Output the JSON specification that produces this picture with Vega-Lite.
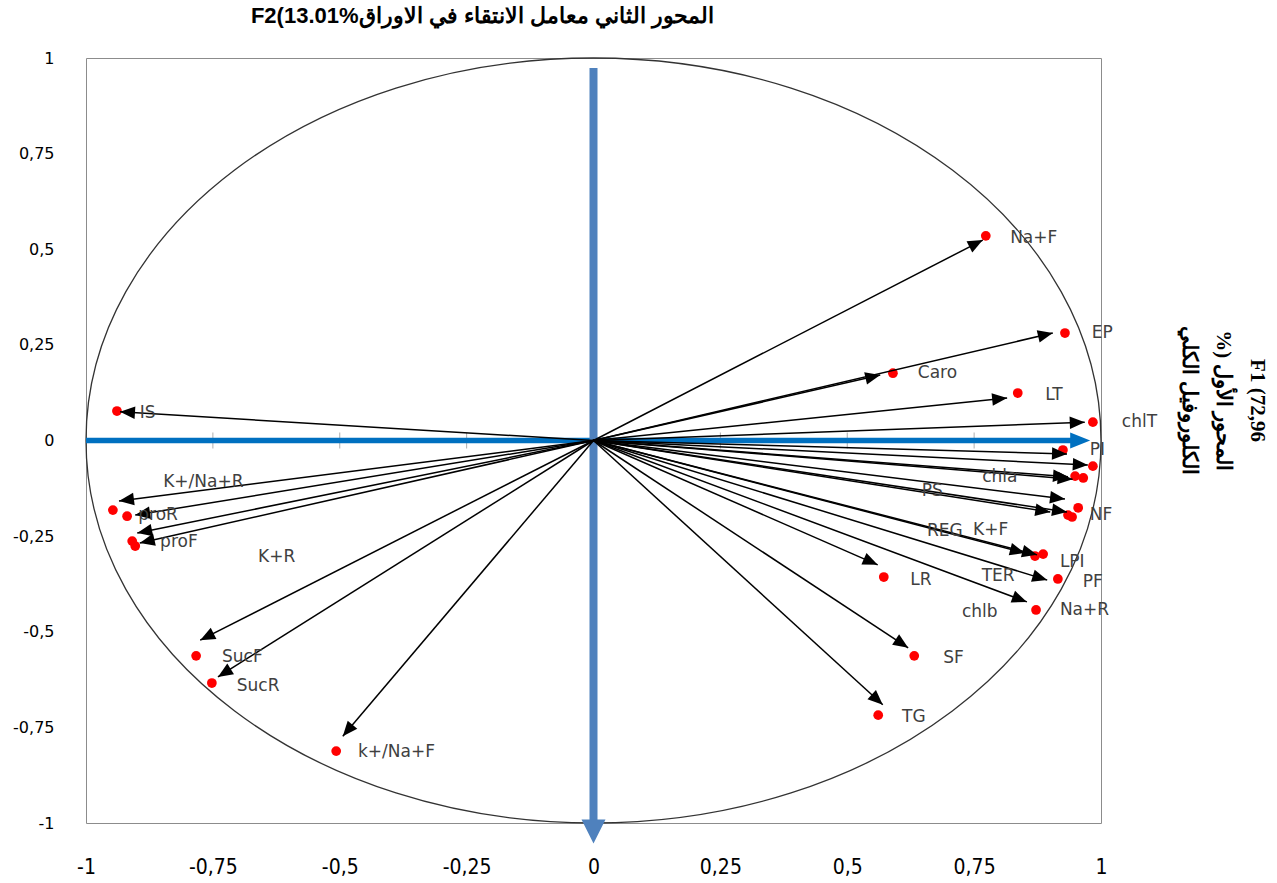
{
  "$schema": "https://vega.github.io/schema/vega-lite/v6.json",
  "width": 1015,
  "height": 765,
  "autosize": "none",
  "padding": {"left": 86, "top": 58, "right": 176, "bottom": 60},
  "background": "white",
  "config": {"view": {"stroke": "#8c8c8c", "strokeWidth": 1}, "font": "DejaVu Sans"},
  "title": {
    "text": "F2(13.01%المحور الثاني معامل الانتقاء في الاوراق",
    "font": "Liberation Sans",
    "fontWeight": "bold",
    "fontSize": 22,
    "anchor": "middle",
    "dx": -111,
    "offset": 22,
    "color": "#000000"
  },
  "datasets": {
    "vars": [
      {"name": "Na+F", "px": 0.773, "py": 0.535, "ax": 0.767, "ay": 0.524, "lx": 0.821, "ly": 0.530},
      {"name": "EP", "px": 0.929, "py": 0.281, "ax": 0.905, "ay": 0.281, "lx": 0.982, "ly": 0.281},
      {"name": "Caro", "px": 0.590, "py": 0.176, "ax": 0.565, "ay": 0.171, "lx": 0.639, "ly": 0.176},
      {"name": "LT", "px": 0.836, "py": 0.124, "ax": 0.815, "ay": 0.111, "lx": 0.890, "ly": 0.119},
      {"name": "chlT", "px": 0.984, "py": 0.048, "ax": 0.968, "ay": 0.048, "lx": 1.041, "ly": 0.048},
      {"name": "PI", "px": 0.925, "py": -0.025, "ax": 0.933, "ay": -0.035, "lx": 0.978, "ly": -0.025},
      {"name": "PS", "px": 0.984, "py": -0.067, "ax": 0.974, "ay": -0.064, "lx": 0.647, "ly": -0.132},
      {"name": "chla", "px": 0.949, "py": -0.093, "ax": 0.935, "ay": -0.095, "lx": 0.766, "ly": -0.095},
      {"name": "chlb", "px": 0.965, "py": -0.098, "ax": 0.944, "ay": -0.101, "lx": 0.726, "ly": -0.448},
      {"name": "NF", "px": 0.935, "py": -0.195, "ax": 0.933, "ay": -0.187, "lx": 0.978, "ly": -0.195},
      {"name": "REG", "px": 0.955, "py": -0.176, "ax": 0.929, "ay": -0.153, "lx": 0.657, "ly": -0.237},
      {"name": "K+F", "px": 0.943, "py": -0.200, "ax": 0.900, "ay": -0.187, "lx": 0.748, "ly": -0.234},
      {"name": "LPI", "px": 0.870, "py": -0.302, "ax": 0.850, "ay": -0.294, "lx": 0.919, "ly": -0.318},
      {"name": "TER", "px": 0.886, "py": -0.297, "ax": 0.874, "ay": -0.299, "lx": 0.765, "ly": -0.354},
      {"name": "LR", "px": 0.572, "py": -0.357, "ax": 0.560, "ay": -0.325, "lx": 0.624, "ly": -0.365},
      {"name": "PF", "px": 0.915, "py": -0.362, "ax": 0.894, "ay": -0.365, "lx": 0.964, "ly": -0.370},
      {"name": "Na+R", "px": 0.872, "py": -0.443, "ax": 0.854, "ay": -0.422, "lx": 0.919, "ly": -0.443},
      {"name": "SF", "px": 0.632, "py": -0.563, "ax": 0.620, "ay": -0.542, "lx": 0.689, "ly": -0.569},
      {"name": "TG", "px": 0.561, "py": -0.718, "ax": 0.570, "ay": -0.691, "lx": 0.608, "ly": -0.723},
      {"name": "k+/Na+F", "px": -0.507, "py": -0.812, "ax": -0.494, "ay": -0.773, "lx": -0.464, "ly": -0.814},
      {"name": "SucF", "px": -0.783, "py": -0.563, "ax": -0.775, "ay": -0.522, "lx": -0.732, "ly": -0.566},
      {"name": "SucR", "px": -0.752, "py": -0.634, "ax": -0.740, "ay": -0.618, "lx": -0.703, "ly": -0.642},
      {"name": "IS", "px": -0.939, "py": 0.077, "ax": -0.933, "ay": 0.075, "lx": -0.894, "ly": 0.072},
      {"name": "K+/Na+R", "px": -0.947, "py": -0.182, "ax": -0.935, "ay": -0.158, "lx": -0.848, "ly": -0.109},
      {"name": "proR", "px": -0.919, "py": -0.198, "ax": -0.903, "ay": -0.195, "lx": -0.897, "ly": -0.195},
      {"name": "proF", "px": -0.909, "py": -0.263, "ax": -0.899, "ay": -0.242, "lx": -0.854, "ly": -0.265},
      {"name": "K+R", "px": -0.903, "py": -0.276, "ax": -0.894, "ay": -0.268, "lx": -0.661, "ly": -0.305}
    ],
    "ticks": [{"v": -0.75}, {"v": -0.5}, {"v": -0.25}, {"v": 0.25}, {"v": 0.5}, {"v": 0.75}],
    "origin": [{"x": 0, "y": 0}],
    "hline": [{"x": -1, "x2": 0.945, "y": 0}],
    "vline": [{"x": 0, "y": 0.974, "y2": -0.992}],
    "hhead": [{"x": 0.959, "y": 0}],
    "vhead": [{"x": 0, "y": -1.022}]
  },
  "resolve": {"axis": {"y": "independent", "x": "independent"}},
  "layer": [
    {
      "data": {"name": "origin"},
      "mark": {
        "type": "point",
        "shape": "M1,0 C1,0.4163 0.5523,0.7537 0,0.7537 C-0.5523,0.7537 -1,0.4163 -1,0 C-1,-0.4163 -0.5523,-0.7537 0,-0.7537 C0.5523,-0.7537 1,-0.4163 1,0 Z",
        "size": 1030225,
        "filled": false,
        "stroke": "#333333",
        "strokeWidth": 1.3,
        "opacity": 1,
        "clip": false
      },
      "encoding": {
        "x": {
          "field": "x", "type": "quantitative",
          "scale": {"domain": [-1, 1], "nice": false, "zero": false},
          "axis": {
            "values": [-1, -0.75, -0.5, -0.25, 0, 0.25, 0.5, 0.75, 1],
            "domain": false, "ticks": false, "grid": false, "title": null,
            "labelPadding": 33, "labelFont": "Liberation Sans Narrow, DejaVu Sans Condensed, sans-serif",
            "labelFontSize": 21, "labelColor": "#000000", "labelFlush": false, "labelOverlap": false,
            "labelExpr": "replace(toString(datum.value), '.', ',')"
          }
        },
        "y": {
          "field": "y", "type": "quantitative",
          "scale": {"domain": [-1, 1], "nice": false, "zero": false},
          "axis": {
            "values": [-1, -0.75, -0.5, -0.25, 0, 0.25, 0.5, 0.75, 1],
            "domain": false, "ticks": false, "grid": false, "title": null,
            "labelPadding": 32, "labelFont": "DejaVu Sans", "labelFontSize": 16,
            "labelColor": "#000000", "labelFlush": false, "labelOverlap": false,
            "labelExpr": "replace(toString(datum.value), '.', ',')"
          }
        }
      }
    },
    {
      "data": {"name": "ticks"},
      "mark": {"type": "tick", "orient": "vertical", "size": 16, "thickness": 1, "color": "#8c8c8c"},
      "encoding": {
        "x": {"field": "v", "type": "quantitative", "axis": null},
        "y": {"datum": 0, "type": "quantitative", "axis": null}
      }
    },
    {
      "data": {"name": "vars"},
      "mark": {"type": "point", "shape": "circle", "filled": true, "color": "#ff0000", "size": 95, "opacity": 1},
      "encoding": {
        "x": {"field": "px", "type": "quantitative", "axis": null},
        "y": {"field": "py", "type": "quantitative", "axis": null}
      }
    },
    {
      "data": {"name": "hline"},
      "mark": {"type": "rule", "color": "#0070c0", "strokeWidth": 5.5},
      "encoding": {
        "x": {"field": "x", "type": "quantitative", "axis": null},
        "x2": {"field": "x2"},
        "y": {"field": "y", "type": "quantitative", "axis": null}
      }
    },
    {
      "data": {"name": "hhead"},
      "mark": {"type": "point", "shape": "M-1,-0.8L1,0L-1,0.8Z", "size": 400, "filled": true, "color": "#0070c0", "opacity": 1},
      "encoding": {
        "x": {"field": "x", "type": "quantitative", "axis": null},
        "y": {"field": "y", "type": "quantitative", "axis": null}
      }
    },
    {
      "data": {"name": "vline"},
      "mark": {"type": "rule", "color": "#4f81bd", "strokeWidth": 8, "clip": false},
      "encoding": {
        "x": {"field": "x", "type": "quantitative", "axis": null},
        "y": {"field": "y", "type": "quantitative", "axis": null},
        "y2": {"field": "y2"}
      }
    },
    {
      "data": {"name": "vhead"},
      "mark": {"type": "point", "shape": "M-1,-1L1,-1L0,1Z", "size": 576, "filled": true, "color": "#4f81bd", "opacity": 1, "clip": false},
      "encoding": {
        "x": {"field": "x", "type": "quantitative", "axis": null},
        "y": {"field": "y", "type": "quantitative", "axis": null}
      }
    },
    {
      "data": {"name": "vars"},
      "mark": {"type": "rule", "color": "#000000", "strokeWidth": 1.5},
      "encoding": {
        "x": {"field": "ax", "type": "quantitative", "axis": null},
        "y": {"field": "ay", "type": "quantitative", "axis": null},
        "x2": {"datum": 0},
        "y2": {"datum": 0}
      }
    },
    {
      "data": {"name": "vars"},
      "transform": [{"calculate": "-atan2(datum.ay * 382.5, datum.ax * 507.5) * 180 / PI", "as": "ang"}],
      "mark": {"type": "point", "shape": "M0,0L-1,-0.42L-1,0.42Z", "size": 900, "filled": true, "color": "#000000", "opacity": 1},
      "encoding": {
        "x": {"field": "ax", "type": "quantitative", "axis": null},
        "y": {"field": "ay", "type": "quantitative", "axis": null},
        "angle": {"field": "ang", "type": "quantitative", "scale": null}
      }
    },
    {
      "data": {"name": "vars"},
      "mark": {"type": "text", "align": "left", "baseline": "middle", "font": "DejaVu Sans", "fontSize": 17, "color": "#404040"},
      "encoding": {
        "x": {"field": "lx", "type": "quantitative", "axis": null},
        "y": {
          "field": "ly", "type": "quantitative",
          "axis": {
            "orient": "right", "domain": false, "ticks": false, "labels": false, "grid": false,
            "title": ["F1 (72,96", "%) المحور الأول", "الكلوروفيل الكلي"],
            "titleAngle": 90, "titleX": 166, "titleY": 342, "titleAlign": "center", "titleBaseline": "top",
            "titleFont": "Liberation Serif", "titleFontSize": 21, "titleFontWeight": "bold",
            "titleLineHeight": 34, "titleColor": "#000000"
          }
        },
        "text": {"field": "name", "type": "nominal"}
      }
    }
  ]
}
